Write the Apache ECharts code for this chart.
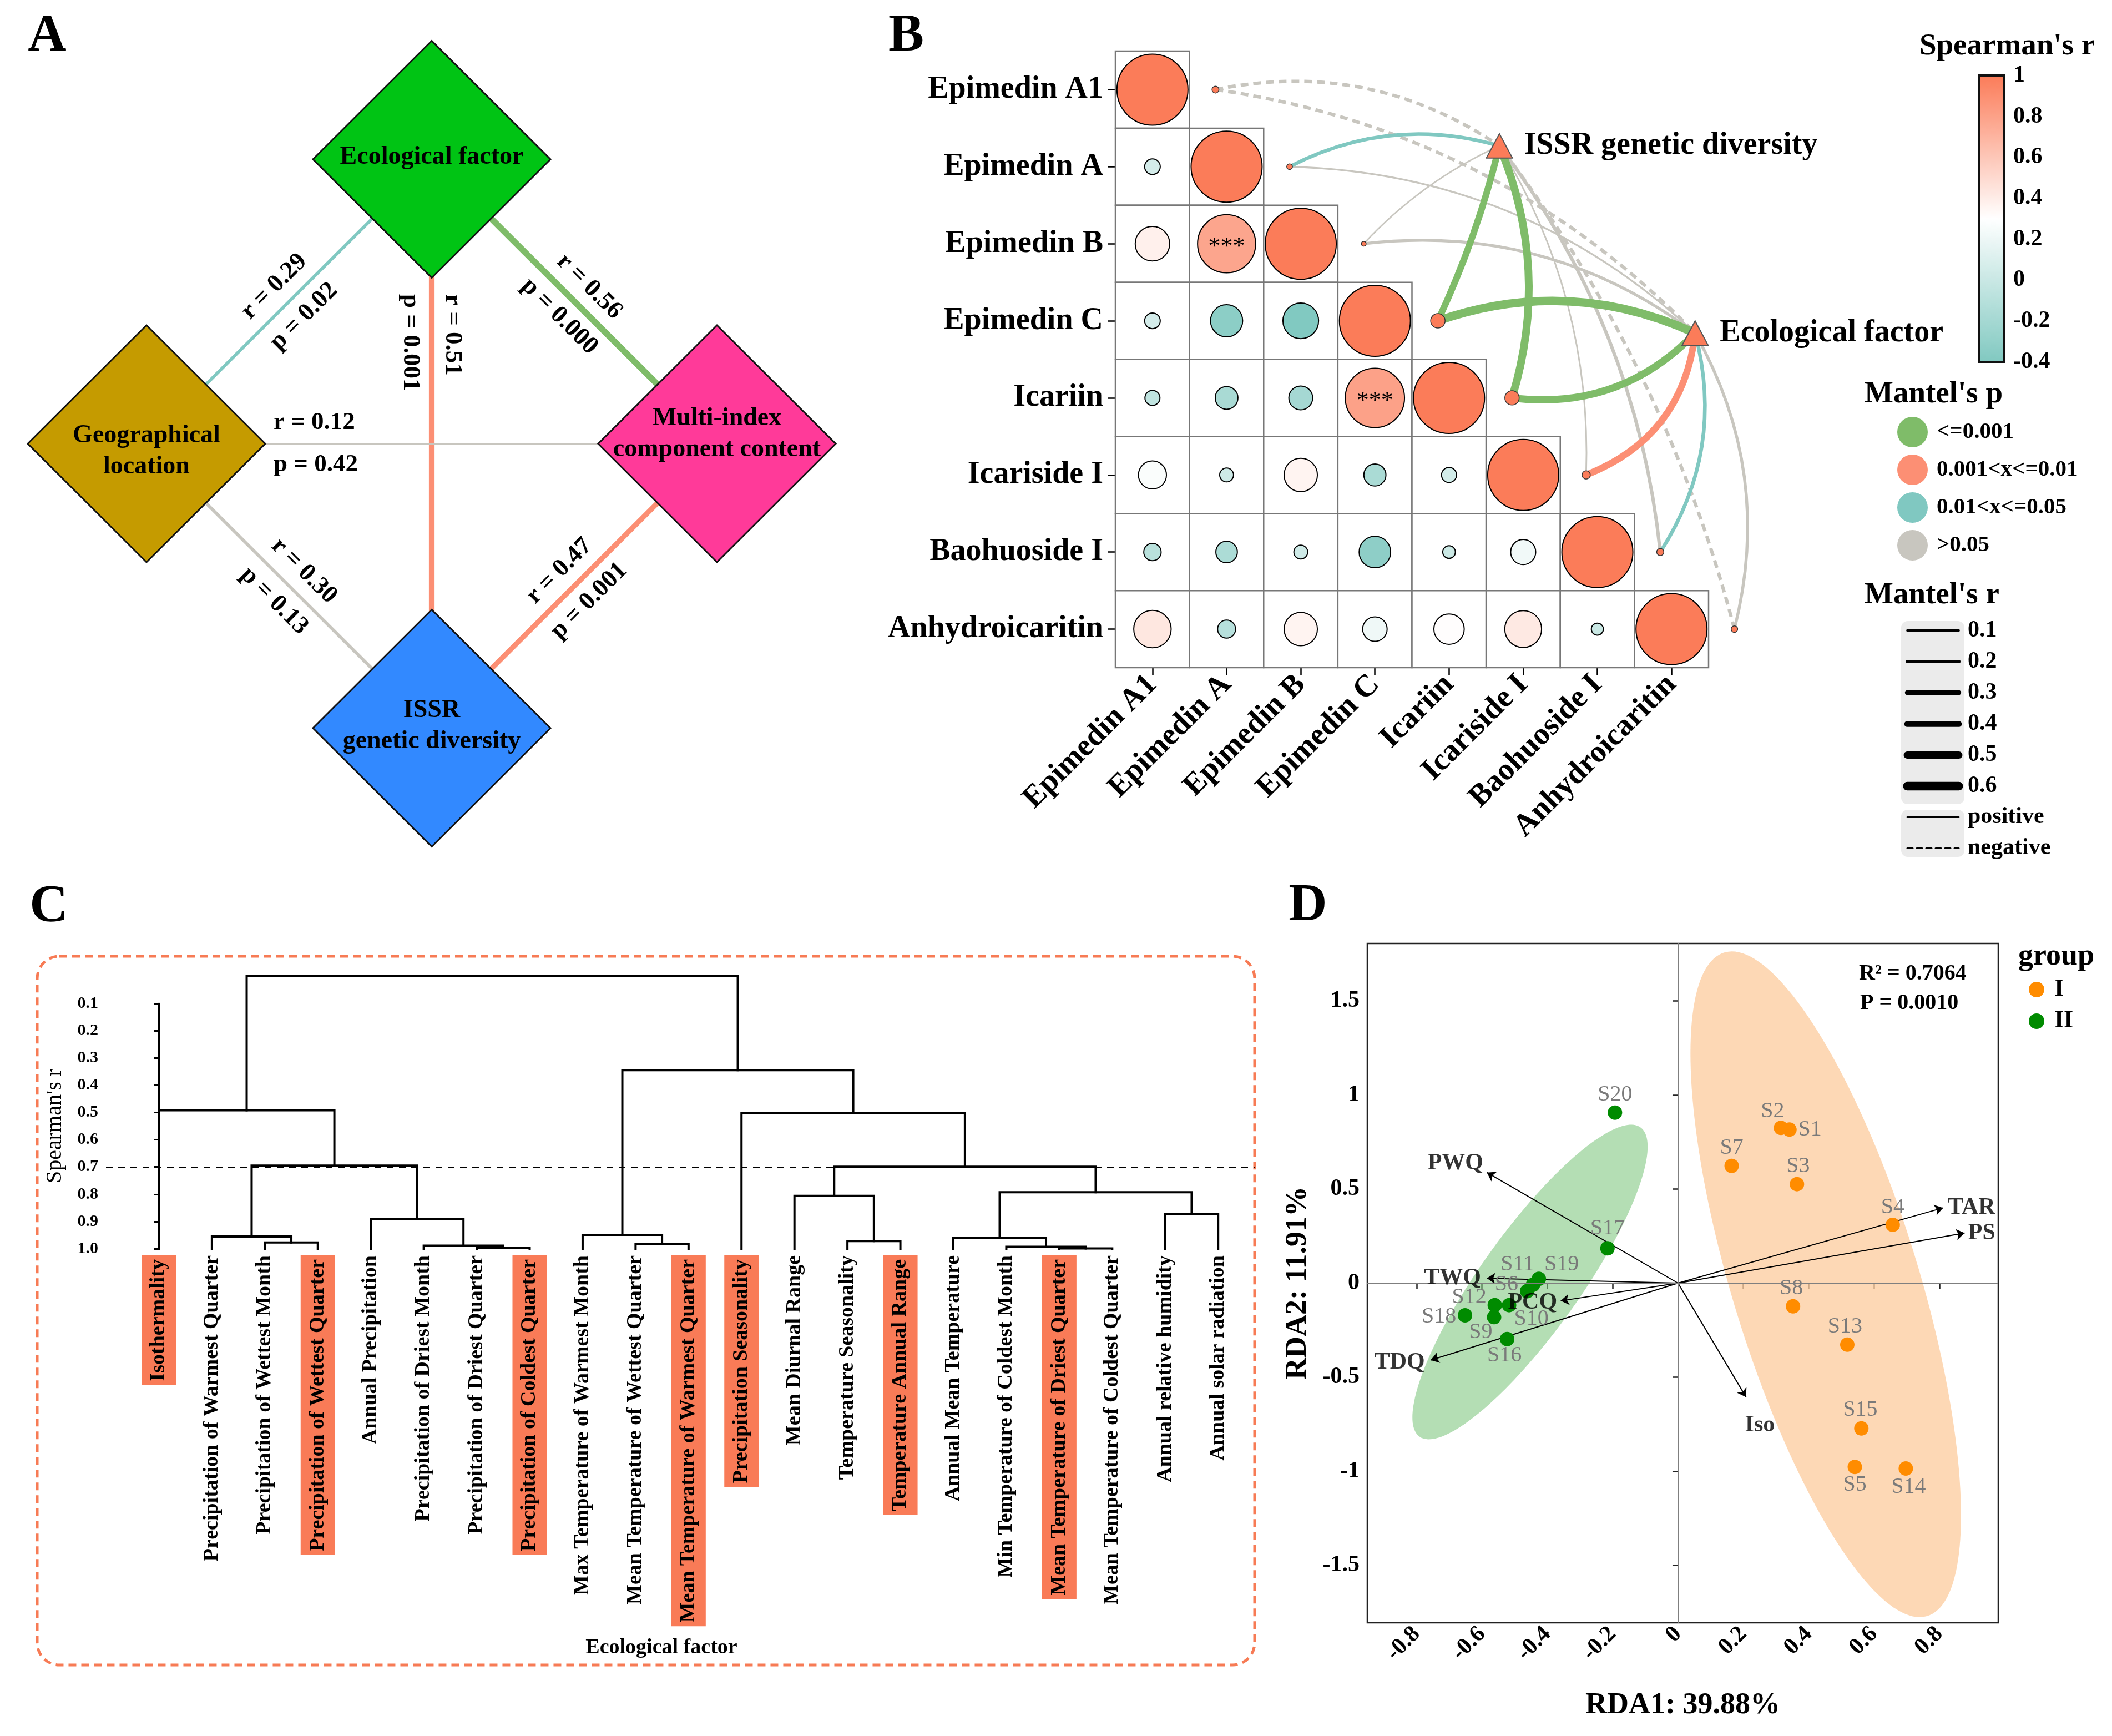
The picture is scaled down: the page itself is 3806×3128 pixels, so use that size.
<!DOCTYPE html>
<html>
<head>
<meta charset="utf-8">
<script src="https://cdn.jsdelivr.net/npm/echarts@6.0.0/dist/echarts.min.js"></script>
<style>
html,body{margin:0;padding:0;background:#ffffff;}
#chart{width:3806px;height:3128px;}
</style>
</head>
<body>
<div id="chart"></div>
<script>
const FONT = 'Liberation Serif';

// ================= DATA =================
// ---- Panel A: Mantel network between data sets ----
const netNodeNames = ['Ecological factor', 'Geographical\nlocation', 'Multi-index\ncomponent content', 'ISSR\ngenetic diversity'];
const netEdgeFrom = [1, 0, 0, 1, 1, 3];
const netEdgeTo = [0, 2, 3, 2, 3, 2];
const netEdgeR = [0.29, 0.56, 0.51, 0.12, 0.30, 0.47];
const netEdgeP = ['0.02', '0.000', '0.001', '0.42', '0.13', '0.001'];
const netEdgePClass = [2, 0, 1, 3, 3, 1];

// ---- Panel B: Spearman correlation among compounds + Mantel tests ----
const compounds = ['Epimedin A1', 'Epimedin A', 'Epimedin B', 'Epimedin C', 'Icariin', 'Icariside I', 'Baohuoside I', 'Anhydroicaritin'];
const spearmanLower = [
  [1],
  [0.06, 1],
  [0.38, 0.78, 1],
  [0.06, -0.34, -0.40, 1],
  [-0.05, -0.18, -0.20, 0.80, 1],
  [0.27, 0.03, 0.36, -0.17, 0.05, 1],
  [-0.09, -0.16, 0.03, -0.33, 0.01, 0.22, 1],
  [0.43, -0.10, 0.36, 0.21, 0.31, 0.42, 0.00, 1]
];
const spearmanSig = [[2, 1], [4, 3]];
const mantelTargets = ['ISSR genetic diversity', 'Ecological factor'];
const mantelR_ISSR = [-0.20, 0.22, 0.05, 0.45, 0.54, 0.06, 0.20, -0.20];
const mantelP_ISSR = [3, 2, 3, 0, 0, 3, 3, 3];
const mantelR_Eco = [-0.20, 0.08, 0.17, 0.60, 0.50, 0.46, 0.22, 0.17];
const mantelP_Eco = [3, 3, 3, 0, 0, 1, 2, 3];
const pClassLabels = ['<=0.001', '0.001<x<=0.01', '0.01<x<=0.05', '>0.05'];
const mantelRTicks = [0.1, 0.2, 0.3, 0.4, 0.5, 0.6];
const spearmanRange = [-0.4, 1];

// ---- Panel C: clustering of ecological factors ----
const ecoFactors = ['Isothermality', 'Precipitation of Warmest Quarter', 'Precipitation of Wettest Month', 'Precipitation of Wettest Quarter',
  'Annual Precipitation', 'Precipitation of Driest Month', 'Precipitation of Driest Quarter', 'Precipitation of Coldest Quarter',
  'Max Temperature of Warmest Month', 'Mean Temperature of Wettest Quarter', 'Mean Temperature of Warmest Quarter', 'Precipitation Seasonality',
  'Mean Diurnal Range', 'Temperature Seasonality', 'Temperature Annual Range', 'Annual Mean Temperature',
  'Min Temperature of Coldest Month', 'Mean Temperature of Driest Quarter', 'Mean Temperature of Coldest Quarter', 'Annual relative humidity', 'Annual solar radiation'];
const selectedFactors = [0, 3, 7, 10, 11, 14, 17];
// merges: [childA, childB, height(Spearman r)]; child < 100 = leaf index, >= 100 = merge (100 + k)
const dendroMerges = [
  [9, 10, 0.983], [8, 100, 0.949], [2, 3, 0.977], [1, 102, 0.955], [6, 7, 0.998],
  [5, 104, 0.989], [4, 105, 0.891], [103, 106, 0.695], [0, 107, 0.492], [13, 14, 0.972],
  [12, 109, 0.806], [17, 18, 0.999], [16, 111, 0.993], [15, 112, 0.960], [19, 20, 0.874],
  [113, 114, 0.793], [110, 115, 0.699], [11, 116, 0.503], [101, 117, 0.345], [108, 118, 0.0]
];
const cutHeight = 0.7;

// ---- Panel D: RDA ----
const sitesI = ['S1', 'S2', 'S3', 'S4', 'S5', 'S7', 'S8', 'S13', 'S14', 'S15'];
const rda1I = [0.341, 0.315, 0.364, 0.657, 0.541, 0.164, 0.352, 0.518, 0.697, 0.561];
const rda2I = [0.816, 0.825, 0.526, 0.310, -0.977, 0.623, -0.123, -0.327, -0.985, -0.772];
const sitesII = ['S6', 'S9', 'S10', 'S11', 'S12', 'S16', 'S17', 'S18', 'S19', 'S20'];
const rda1II = [-0.462, -0.563, -0.517, -0.444, -0.561, -0.523, -0.216, -0.652, -0.426, -0.193];
const rda2II = [-0.043, -0.181, -0.117, -0.009, -0.117, -0.297, 0.185, -0.171, 0.023, 0.906];
const envVars = ['TAR', 'PS', 'PWQ', 'TWQ', 'PCQ', 'TDQ', 'Iso'];
const envRDA1 = [0.811, 0.877, -0.585, -0.585, -0.359, -0.757, 0.208];
const envRDA2 = [0.400, 0.266, 0.588, 0.026, -0.094, -0.409, -0.605];
const ellipseI = {cx: 0.452, cy: -0.006, hx: 0.414, hy: 1.769, rho: -0.694};
const ellipseII = {cx: -0.453, cy: 0.006, hx: 0.360, hy: 0.836, rho: 0.86};
const xTicksD = [-0.8, -0.6, -0.4, -0.2, 0, 0.2, 0.4, 0.6, 0.8];
const yTicksD = [-1.5, -1, -0.5, 0, 0.5, 1, 1.5];
const rdaStats = ['R\u00B2 = 0.7064', 'P = 0.0010'];

// ================= STYLE / LAYOUT =================
const pColors = ['#7FBC69', '#FC8F74', '#80C8C1', '#C8C6BF'];
const netNodeColors = ['#00C414', '#C59B00', '#FF3A99', '#3289FF'];
const netLayout = [[0, 1], [-1, 0], [1, 0], [0, -1]];
const netNodeLabelOffset = [[0, -4], [0, 14], [0, -17], [0, -4]];
const netLabelPos = ['insideMiddle', 'insideMiddle', 'insideStart', 'insideStart', 'insideMiddle', 'insideMiddle'];
const netLabelDist = [0, 0, 243, 229, 0, 0];
const mantelNodePos = [[4.68, 0.73], [7.32, 3.16]];
const linkCurv = [[0.21, 0.2, 0.1, -0.05, -0.18, -0.15, -0.14, -0.1], [0.17, 0.19, 0.2, 0.2, -0.25, -0.3, -0.22, -0.2]];
const dotOffset = 0.85;
const corrLow = '#81C9C1', corrMid = '#FFFFFF', corrHigh = '#FB7C59';
const siteLabelOffset = {S1: [37, 0], S2: [-15, -30], S3: [2, -32], S4: [0, -31], S5: [0, 32], S7: [0, -32], S8: [-3, -32], S13: [-4, -32], S14: [5, 34], S15: [-2, -33],
  S6: [-37, -12], S9: [-24, 27], S10: [40, 25], S11: [-28, -37], S12: [-46, -14], S16: [-5, 30], S17: [0, -36], S18: [-47, 3], S19: [41, -26], S20: [0, -32]};
const envLabelStyle = {
  TAR: {position: 'right', distance: 8}, PS: {position: 'right', distance: 6},
  PWQ: {position: 'left', distance: 6, offset: [0, -16]}, TWQ: {position: 'left', distance: 10},
  PCQ: {position: 'left', distance: 6, offset: [0, 3]}, TDQ: {position: 'left', distance: 10, offset: [0, 4]},
  Iso: {position: 'bottom', distance: 30, offset: [25, 0]}
};
const mantelWidth = r => 1.5 + 23 * Math.abs(r);

function hiddenAxis(gridIndex, min, max, inverse) {
  return {type: 'value', gridIndex, min, max, inverse: !!inverse, show: false, splitLine: {show: false}};
}
function txt(x, y, text, size, align, weight, extra) {
  return Object.assign({
    type: 'text', x, y, silent: true, z: 10,
    style: {text, fill: '#000', fontSize: size, fontWeight: weight || 'bold', fontFamily: FONT,
      textAlign: align || 'center', align: align || 'center', textVerticalAlign: 'middle', verticalAlign: 'middle'}
  }, extra || {});
}

// ================= BUILD =================
const grids = [
  {left: 264, top: 287, width: 1028, height: 1025},          // 0 A network
  {left: 2010, top: 92, width: 1069, height: 1111},          // 1 B matrix
  {left: 2010, top: 92, width: 1336, height: 1111},          // 2 B links overlay
  {left: 3566, top: 136, width: 46, height: 516, show: true, borderColor: '#111', borderWidth: 4, backgroundColor: 'transparent', z: 10}, // 3 colorbar
  {left: 3437, top: 1136, width: 93, height: 392},           // 4 Mantel r legend
  {left: 191, top: 1808, width: 2071, height: 442},          // 5 C dendrogram
  {left: 2464, top: 1700, width: 1137, height: 1224, show: true, borderColor: '#222', borderWidth: 2.5, backgroundColor: 'transparent', z: 0} // 6 D RDA
].map(g => Object.assign({containLabel: false, outerBoundsMode: 'none'}, g));

const xAxes = [
  hiddenAxis(0, -1, 1),
  {type: 'category', gridIndex: 1, data: compounds, axisLine: {show: false},
    axisTick: {show: true, alignWithLabel: true, length: 14, lineStyle: {color: '#000', width: 2.5}},
    axisLabel: {interval: 0, rotate: 45, margin: 22, fontSize: 56, fontWeight: 'bold', color: '#000', fontFamily: FONT}, splitLine: {show: false}},
  hiddenAxis(2, -0.5, 9.5),
  hiddenAxis(3, 0, 1),
  hiddenAxis(4, 0, 1),
  {type: 'value', gridIndex: 5, min: -1, max: 20.7, axisLine: {show: false}, axisTick: {show: false}, splitLine: {show: false},
    axisLabel: {customValues: ecoFactors.map((_, i) => i), rotate: 90, margin: 12, fontSize: 38, fontWeight: 'bold', color: '#000', fontFamily: FONT,
      formatter: v => { const i = Math.round(v); return selectedFactors.indexOf(i) >= 0 ? '{hl|' + ecoFactors[i] + '}' : ecoFactors[i]; },
      rich: {hl: {backgroundColor: '#F97B57', padding: [12, 7, 12, 7], fontSize: 38, fontWeight: 'bold', color: '#000', fontFamily: FONT}}}},
  {type: 'value', gridIndex: 6, min: -0.951, max: 0.98, axisLine: {show: false}, splitLine: {show: false},
    axisTick: {show: true, customValues: xTicksD, length: 10, lineStyle: {color: '#222', width: 2.5}},
    axisLabel: {customValues: xTicksD, rotate: 45, margin: 14, fontSize: 42, fontWeight: 'bold', color: '#000', fontFamily: FONT},
    name: 'RDA1: 39.88%', nameLocation: 'middle', nameGap: 122, nameTextStyle: {fontSize: 54, fontWeight: 'bold', color: '#000', fontFamily: FONT}}
];
const yAxes = [
  hiddenAxis(0, -1, 1),
  {type: 'category', gridIndex: 1, data: compounds, inverse: true, axisLine: {show: false},
    axisTick: {show: true, alignWithLabel: true, length: 14, lineStyle: {color: '#000', width: 2.5}},
    axisLabel: {interval: 0, margin: 22, fontSize: 56, fontWeight: 'bold', color: '#000', fontFamily: FONT}, splitLine: {show: false}},
  hiddenAxis(2, -0.5, 7.5, true),
  {type: 'value', gridIndex: 3, min: spearmanRange[0], max: spearmanRange[1], interval: 0.2, position: 'right',
    axisLine: {show: false}, splitLine: {show: false},
    axisTick: {show: true, length: 12, lineStyle: {color: '#111', width: 3}},
    axisLabel: {margin: 16, fontSize: 42, fontWeight: 'bold', color: '#000', fontFamily: FONT, formatter: v => String(+(+v).toFixed(1))}},
  hiddenAxis(4, 0, 7, true),
  {type: 'value', gridIndex: 5, min: 0.1, max: 1.0, interval: 0.1, inverse: true, splitLine: {show: false},
    axisLine: {show: true, lineStyle: {color: '#000', width: 3}},
    axisTick: {show: true, length: 9, lineStyle: {color: '#000', width: 3}},
    axisLabel: {margin: 14, fontSize: 30, fontWeight: 'bold', color: '#000', fontFamily: FONT, formatter: v => (+v).toFixed(1)},
    name: "Spearman's r", nameLocation: 'middle', nameGap: 72, nameRotate: 90,
    nameTextStyle: {fontSize: 40, fontWeight: 'normal', color: '#000', fontFamily: FONT}},
  {type: 'value', gridIndex: 6, min: -1.805, max: 1.805, axisLine: {show: false}, splitLine: {show: false},
    axisTick: {show: true, customValues: yTicksD, length: 10, lineStyle: {color: '#222', width: 2.5}},
    axisLabel: {customValues: yTicksD, margin: 14, fontSize: 42, fontWeight: 'bold', color: '#000', fontFamily: FONT},
    name: 'RDA2: 11.91%', nameLocation: 'middle', nameGap: 98, nameRotate: 90, nameTextStyle: {fontSize: 54, fontWeight: 'bold', color: '#000', fontFamily: FONT}}
];

const series = [];
// ---- A ----
series.push({
  type: 'lines', name: 'netEdges', coordinateSystem: 'cartesian2d', xAxisIndex: 0, yAxisIndex: 0, z: 2, silent: true, clip: false,
  data: netEdgeFrom.map((f, i) => ({
    coords: [netLayout[f], netLayout[netEdgeTo[i]]],
    lineStyle: {color: pColors[netEdgePClass[i]], width: 20 * netEdgeR[i], opacity: 1, curveness: 0},
    label: {show: true, position: netLabelPos[i], distance: netLabelDist[i],
      formatter: 'r = ' + netEdgeR[i].toFixed(2) + '\np = ' + netEdgeP[i],
      color: '#000', fontSize: 45, fontWeight: 'bold', fontFamily: FONT, lineHeight: 76}
  }))
});
series.push({
  type: 'scatter', name: 'netNodes', xAxisIndex: 0, yAxisIndex: 0, z: 5, silent: true, clip: false, symbol: 'diamond', symbolSize: [428, 427],
  data: netNodeNames.map((n, i) => ({value: netLayout[i], name: n, itemStyle: {color: netNodeColors[i]}, label: {offset: netNodeLabelOffset[i]}})),
  itemStyle: {borderColor: '#111', borderWidth: 3, opacity: 1},
  label: {show: true, position: 'inside', formatter: '{b}', color: '#000', fontSize: 46, fontWeight: 'bold', fontFamily: FONT, lineHeight: 56}
});

// ---- B ----
const cells = [], circles = [];
for (let i = 0; i < compounds.length; i++) {
  for (let j = 0; j <= i; j++) {
    cells.push([j, i]);
    const r = spearmanLower[i][j];
    const sig = spearmanSig.some(s => s[0] === i && s[1] === j);
    circles.push(sig ? {value: [j, i, r], label: {show: true}} : [j, i, r]);
  }
}
series.push({
  type: 'custom', name: 'cells', xAxisIndex: 1, yAxisIndex: 1, z: 2, silent: true, data: cells,
  renderItem: (p, api) => {
    const c = api.coord([api.value(0), api.value(1)]);
    const s = api.size([1, 1]);
    return {type: 'rect', shape: {x: c[0] - s[0] / 2, y: c[1] - s[1] / 2, width: s[0], height: s[1]}, style: {fill: '#fff', stroke: '#777', lineWidth: 2.5}};
  }
});
const circleSeriesIndex = series.length;
series.push({
  type: 'scatter', name: 'spearman', xAxisIndex: 1, yAxisIndex: 1, z: 4, silent: true, data: circles,
  symbolSize: v => 128 * (0.17 + 0.83 * Math.abs(v[2])),
  itemStyle: {borderColor: '#000', borderWidth: 2, opacity: 1},
  label: {show: false, position: 'inside', formatter: '***', color: '#000', fontSize: 44, fontFamily: FONT, offset: [0, 6]}
});
const mantelR = [mantelR_ISSR, mantelR_Eco], mantelP = [mantelP_ISSR, mantelP_Eco];
[3, 2, 1, 0].forEach(k => {
  const data = [];
  for (let t = 0; t < 2; t++) {
    for (let i = 0; i < compounds.length; i++) {
      if (mantelP[t][i] !== k) continue;
      const r = mantelR[t][i];
      data.push({coords: [[i + dotOffset, i], mantelNodePos[t]],
        lineStyle: {width: mantelWidth(r), type: r < 0 ? [14, 9] : 'solid', curveness: linkCurv[t][i]}});
    }
  }
  series.push({type: 'lines', name: pClassLabels[k], coordinateSystem: 'cartesian2d', xAxisIndex: 2, yAxisIndex: 2, z: 3, silent: true, clip: false,
    data, lineStyle: {color: pColors[k], opacity: 1}, itemStyle: {color: pColors[k]}});
});
series.push({
  type: 'scatter', name: 'mantelDots', xAxisIndex: 2, yAxisIndex: 2, z: 6, silent: true, clip: false,
  data: compounds.map((c, i) => [i + dotOffset, i, (Math.abs(mantelR_ISSR[i]) + Math.abs(mantelR_Eco[i])) / 2]),
  symbolSize: v => 4 + 42 * v[2],
  itemStyle: {color: corrHigh, borderColor: '#333', borderWidth: 1.5, opacity: 1}
});
series.push({
  type: 'scatter', name: 'mantelTargets', xAxisIndex: 2, yAxisIndex: 2, z: 7, silent: true, clip: false, symbol: 'triangle', symbolSize: [47, 44],
  data: mantelTargets.map((n, t) => ({value: mantelNodePos[t], name: n})),
  itemStyle: {color: corrHigh, borderColor: '#555', borderWidth: 2, opacity: 1},
  label: {show: true, position: 'right', distance: 20, formatter: '{b}', fontSize: 56, fontWeight: 'bold', color: '#000', fontFamily: FONT}
});
// Mantel's r legend keys
const rLegLabel = {show: true, position: 'end', distance: 16, color: '#000', fontSize: 42, fontWeight: 'bold', fontFamily: FONT};
const rLegData = mantelRTicks.map((t, i) => ({coords: [[0, i], [1, i]], lineStyle: {width: mantelWidth(t)},
  label: Object.assign({}, rLegLabel, {formatter: String(t)})}));
rLegData.push({coords: [[0, 6], [1, 6]], lineStyle: {width: 3}, label: Object.assign({}, rLegLabel, {formatter: 'positive'})});
rLegData.push({coords: [[0, 7], [1, 7]], lineStyle: {width: 3, type: [10, 7]}, label: Object.assign({}, rLegLabel, {formatter: 'negative'})});
series.push({
  type: 'lines', name: 'rLegend', coordinateSystem: 'cartesian2d', xAxisIndex: 4, yAxisIndex: 4, z: 3, silent: true, clip: false, data: rLegData,
  lineStyle: {color: '#000', opacity: 1, cap: 'round'},
  label: rLegLabel
});

// ---- C ----
const mergeX = [];
const nodePos = id => id < 100 ? [id, 1.0] : [mergeX[id - 100], dendroMerges[id - 100][2]];
const dendroSegs = dendroMerges.map((m, k) => {
  const a = nodePos(m[0]), b = nodePos(m[1]);
  mergeX[k] = (a[0] + b[0]) / 2;
  return {coords: [[a[0], a[1]], [a[0], m[2]], [b[0], m[2]], [b[0], b[1]]]};
});
series.push({
  type: 'lines', name: 'dendrogram', coordinateSystem: 'cartesian2d', polyline: true, xAxisIndex: 5, yAxisIndex: 5, z: 3, silent: true, clip: false,
  data: dendroSegs, lineStyle: {color: '#000', width: 4, opacity: 1, cap: 'square'}
});
series.push({
  type: 'scatter', name: 'cutLine', xAxisIndex: 5, yAxisIndex: 5, z: 2, silent: true, data: [],
  markLine: {silent: true, symbol: ['none', 'none'], label: {show: false}, animation: false,
    lineStyle: {color: '#000', width: 2, type: [12, 10]}, data: [{yAxis: cutHeight}]}
});

// ---- D ----
function ellipseSeries(e, color, name) {
  return {
    type: 'custom', name, xAxisIndex: 6, yAxisIndex: 6, z: 1, silent: true, data: [[e.cx, e.cy]],
    renderItem: (p, api) => {
      const pts = [];
      const s = Math.sqrt(1 - e.rho * e.rho);
      for (let k = 0; k < 180; k++) {
        const t = 2 * Math.PI * k / 180;
        pts.push(api.coord([e.cx + e.hx * Math.cos(t), e.cy + e.hy * (e.rho * Math.cos(t) + s * Math.sin(t))]));
      }
      return {type: 'polygon', shape: {points: pts}, style: {fill: color}};
    }
  };
}
series.push(ellipseSeries(ellipseI, 'rgba(253,205,160,0.78)', 'ellI'));
series.push(ellipseSeries(ellipseII, 'rgba(130,200,130,0.6)', 'ellII'));
series.push({
  type: 'scatter', name: 'zeroLines', xAxisIndex: 6, yAxisIndex: 6, z: 2, silent: true, data: [],
  markLine: {silent: true, symbol: ['none', 'none'], label: {show: false}, animation: false,
    lineStyle: {color: '#7F7F7F', width: 2, type: 'solid'}, data: [{xAxis: 0}, {yAxis: 0}]}
});
series.push({
  type: 'lines', name: 'envArrows', coordinateSystem: 'cartesian2d', xAxisIndex: 6, yAxisIndex: 6, z: 3, silent: true,
  symbol: ['none', 'arrow'], symbolSize: 15,
  data: envVars.map((n, i) => ({coords: [[0, 0], [envRDA1[i], envRDA2[i]]]})),
  lineStyle: {color: '#000', width: 2, opacity: 1}, itemStyle: {color: '#000'}
});
series.push({
  type: 'scatter', name: 'envLabels', xAxisIndex: 6, yAxisIndex: 6, z: 6, silent: true, symbolSize: 1,
  itemStyle: {color: 'rgba(0,0,0,0)'},
  data: envVars.map((n, i) => ({value: [envRDA1[i], envRDA2[i]], name: n, label: envLabelStyle[n]})),
  label: {show: true, formatter: '{b}', color: '#000', fontSize: 42, fontWeight: 'bold', fontFamily: FONT}
});
function siteSeries(name, sites, xs, ys, color) {
  return {
    type: 'scatter', name, xAxisIndex: 6, yAxisIndex: 6, z: 4, silent: true, symbolSize: 26,
    itemStyle: {color, opacity: 1},
    data: sites.map((s, i) => ({value: [xs[i], ys[i]], name: s, label: {offset: siteLabelOffset[s]}})),
    label: {show: true, position: 'inside', formatter: '{b}', color: '#7A7A7A', fontSize: 40, fontFamily: FONT}
  };
}
series.push(siteSeries('I', sitesI, rda1I, rda2I, '#FF8C00'));
series.push(siteSeries('II', sitesII, rda1II, rda2II, '#008B00'));

// ---- graphics (titles, panel letters, frames) ----
const graphic = [
  txt(85, 66, 'A', 96), txt(1633, 66, 'B', 96), txt(88, 1635, 'C', 96), txt(2357, 1633, 'D', 96),
  txt(3617, 84, "Spearman's r", 55),
  txt(3360, 711, "Mantel's p", 55, 'left'),
  txt(3360, 1073, "Mantel's r", 55, 'left'),
  {type: 'rect', silent: true, z: 0, shape: {x: 3426, y: 1119, width: 114, height: 330, r: 12}, style: {fill: '#EBEBEB'}},
  {type: 'rect', silent: true, z: 0, shape: {x: 3426, y: 1459, width: 114, height: 85, r: 12}, style: {fill: '#EBEBEB'}},
  {type: 'rect', silent: true, z: 0, shape: {x: 67, y: 1723, width: 2194, height: 1277, r: 40},
    style: {fill: 'none', stroke: '#F77B55', lineWidth: 5, lineDash: [14, 9]}},
  txt(1192, 2969, 'Ecological factor', 38),
  txt(3350, 1755, rdaStats[0], 40, 'left'),
  txt(3352, 1808, rdaStats[1], 40, 'left'),
  txt(3637, 1724, 'group', 54, 'left')
];

const option = {
  backgroundColor: '#ffffff',
  animation: false,
  textStyle: {fontFamily: FONT},
  grid: grids,
  xAxis: xAxes,
  yAxis: yAxes,
  visualMap: [{
    type: 'continuous', seriesIndex: [circleSeriesIndex], dimension: 2, min: spearmanRange[0], max: spearmanRange[1],
    inRange: {color: [corrLow, corrMid, corrHigh]}, calculable: false, orient: 'vertical',
    left: 3566, top: 136, itemWidth: 46, itemHeight: 516, padding: 0, z: 2, hoverLink: false
  }],
  legend: [
    {data: pClassLabels.map((n, k) => ({name: n, icon: 'circle', itemStyle: {color: pColors[k], borderWidth: 0}})),
      orient: 'vertical', left: 3419, top: 751, itemWidth: 77, itemHeight: 55, itemGap: 13, padding: 0, selectedMode: false,
      textStyle: {fontSize: 41, fontWeight: 'bold', color: '#000', fontFamily: FONT}},
    {data: [{name: 'I', icon: 'circle'}, {name: 'II', icon: 'circle'}],
      orient: 'vertical', left: 3656, top: 1761, itemWidth: 54, itemHeight: 28, itemGap: 13, padding: 0, selectedMode: false,
      textStyle: {fontSize: 44, fontWeight: 'bold', color: '#000', fontFamily: FONT}}
  ],
  graphic: graphic,
  series: series
};

const chart = echarts.init(document.getElementById('chart'), null, {renderer: 'canvas'});
chart.setOption(option);
</script>
</body>
</html>
